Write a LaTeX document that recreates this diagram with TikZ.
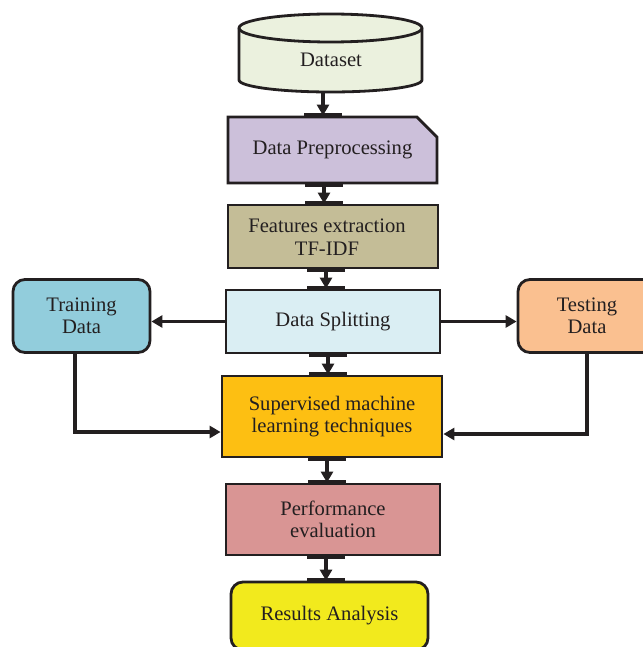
\documentclass[tikz,border=0pt]{standalone}
\usepackage{fontspec}
\setmainfont{Liberation Serif}
\usetikzlibrary{arrows.meta,shapes.misc,calc}
\definecolor{ink}{HTML}{231F20}
\definecolor{dsfill}{HTML}{EBF1DE}
\definecolor{prefill}{HTML}{CCC0DA}
\definecolor{fefill}{HTML}{C4BD97}
\definecolor{spfill}{HTML}{DAEEF3}
\definecolor{trfill}{HTML}{92CDDC}
\definecolor{tefill}{HTML}{FAC090}
\definecolor{supfill}{HTML}{FDBF12}
\definecolor{pffill}{HTML}{D99594}
\definecolor{resfill}{HTML}{F2EA1D}
\begin{document}
\begin{tikzpicture}[x=1pt,y=-1pt,
  box/.style={draw=ink,line width=2.8pt,align=center,text=ink,inner sep=0pt,
    font=\fontsize{20.6}{22.5}\selectfont},
  txt/.style={align=center,text=ink,inner sep=0pt,font=\fontsize{20.6}{22.5}\selectfont},
  arr/.style={draw=ink,line width=3.6pt,-{Triangle[length=11pt,width=12pt]}},
  barline/.style={draw=ink,line width=4.5pt}]
\useasboundingbox (0,0) rectangle (642,647);

% Dataset cylinder
\path[draw=ink,fill=dsfill,line width=2.8pt] (239,28) -- (239,80)
  arc[start angle=180,end angle=360,x radius=91.5pt,y radius=12pt] -- (422,28)
  arc[start angle=0,end angle=180,x radius=91.5pt,y radius=14pt] -- cycle;
\draw[draw=ink,line width=2.8pt] (239,28)
  arc[start angle=180,end angle=360,x radius=91.5pt,y radius=14pt];
\node[inner sep=0pt,minimum width=183pt,minimum height=78pt] (ds) at (330.5,53) {};
\node[txt] (dstext) at (331,60) {Dataset};

\node[box,fill=prefill,chamfered rectangle,chamfered rectangle corners=north east,
  chamfered rectangle xsep=12pt,chamfered rectangle ysep=11pt,
  minimum width=209pt,minimum height=66pt] (pre) at (332.5,150) {Data Preprocessing};
\node[box,fill=fefill,minimum width=210pt,minimum height=63pt] (fe) at (333,236.5) {};
\node[txt] (fetext) at (327,237) {Features extraction\\TF-IDF};
\node[box,fill=spfill,minimum width=214pt,minimum height=63pt] (sp) at (333,321.5) {Data Splitting};
\node[box,fill=trfill,rounded corners=12pt,minimum width=137pt,minimum height=73pt] (tr) at (81.5,316) {Training\\Data};
\node[box,fill=tefill,rounded corners=12pt,minimum width=138pt,minimum height=73pt] (te) at (587,316) {Testing\\Data};
\node[box,fill=supfill,minimum width=220pt,minimum height=81pt] (sup) at (332,416.5) {Supervised machine\\learning techniques};
\node[box,fill=pffill,minimum width=214pt,minimum height=71pt] (pf) at (333,519.5) {Performance\\evaluation};
\node[box,fill=resfill,rounded corners=12pt,minimum width=197pt,minimum height=68pt] (res) at (329.5,616) {Results Analysis};

% helper coordinates
\coordinate (a1) at (323,0);
\coordinate (a2) at (324,0);
\coordinate (a3) at (326,0);
\coordinate (a4) at (328,0);
\coordinate (a5) at (327,0);
\coordinate (a6) at (326,0);
\coordinate (tx) at (75,0);
\coordinate (hy) at (0,321.5);
\coordinate (jl) at (0,432);
\coordinate (jr) at (0,434);

% bars at connection points
\foreach \n/\c in {pre.north/a1,pre.south/a2,fe.north/a2,fe.south/a3,sp.north/a3,
                   sp.south/a4,sup.north/a4,sup.south/a5,pf.north/a5,pf.south/a6,res.north/a6}
  \draw[barline] ($(\n -| \c)+(-19,0)$) -- ($(\n -| \c)+(19,0)$);

% vertical arrows
\draw[arr] (ds.south -| a1) -- (pre.north -| a1);
\draw[arr] (pre.south -| a2) -- (fe.north -| a2);
\draw[arr] (fe.south -| a3) -- (sp.north -| a3);
\draw[arr] (sp.south -| a4) -- (sup.north -| a4);
\draw[arr] (sup.south -| a5) -- (pf.north -| a5);
\draw[arr] (pf.south -| a6) -- (res.north -| a6);

% horizontal arrows
\draw[arr] (sp.west) -- (sp.west -| tr.east);
\draw[arr] (sp.east) -- (sp.east -| te.west);
\draw[arr] (tr.south -| tx) |- (sup.west |- jl);
\draw[arr] (te.south) |- (sup.east |- jr);
\end{tikzpicture}
\end{document}
